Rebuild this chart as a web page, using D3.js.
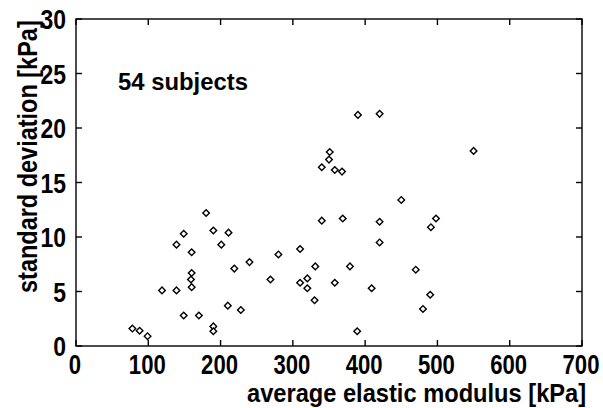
<!DOCTYPE html>
<html>
<head>
<meta charset="utf-8">
<script src="https://cdn.jsdelivr.net/npm/d3@7"></script>
<style>
body{margin:0;background:#fff;}
svg{display:block;}
.narrow{font-family:"Liberation Sans Narrow","Arial Narrow","Liberation Sans",Arial,sans-serif;font-weight:bold;}
</style>
</head>
<body>
<svg id="chart" width="603" height="408"></svg>
<script>
var modulus=[78,88,99,119,139,139,149,149,160,160,159,160,170,180,190,190,190,201,211,210,219,228,240,269,280,310,310,320,320,331,330,340,340,350,351,358,358,368,369,379,389,390,409,420,420,420,450,470,480,490,491,498,550];
var stdDev=[1.6,1.4,0.9,5.1,5.1,9.3,10.3,2.8,8.6,6.7,6.1,5.4,2.8,12.2,10.6,1.8,1.35,9.3,10.4,3.7,7.1,3.3,7.7,6.1,8.4,8.9,5.8,6.2,5.3,7.3,4.2,16.4,11.5,17.1,17.8,16.15,5.8,16.0,11.7,7.3,1.35,21.2,5.3,11.4,9.5,21.3,13.4,7.0,3.4,4.7,10.9,11.7,17.9];
var xTicks=[0,100,200,300,400,500,600,700];
var yTicks=[0,5,10,15,20,25,30];

(function(){
    var svg=d3.select("#chart");
    var pL=76,pR=582,pT=19,pB=346;
    var x=d3.scaleLinear().domain([0,700]).range([pL,pR]);
    var y=d3.scaleLinear().domain([0,30]).range([pB,pT]);

    var axes=svg.append("g").attr("stroke","#000").attr("stroke-width",1.4).attr("fill","none");
    axes.append("rect").attr("x",pL).attr("y",pT).attr("width",pR-pL).attr("height",pB-pT);
    xTicks.forEach(function(t){
        axes.append("line").attr("x1",x(t)).attr("x2",x(t)).attr("y1",pB).attr("y2",pB-6);
        axes.append("line").attr("x1",x(t)).attr("x2",x(t)).attr("y1",pT).attr("y2",pT+6);
    });
    yTicks.forEach(function(t){
        axes.append("line").attr("x1",pL).attr("x2",pL+6).attr("y1",y(t)).attr("y2",y(t));
        axes.append("line").attr("x1",pR).attr("x2",pR-6).attr("y1",y(t)).attr("y2",y(t));
    });

    // condensed bold digits: squeeze regular bold horizontally
    svg.append("g").selectAll("text").data(xTicks).enter().append("text")
        .attr("class","narrow")
        .attr("transform",function(d){return "translate("+(x(d)-1)+",374) scale(0.82,1)";})
        .attr("text-anchor","middle")
        .attr("font-size",27)
        .text(function(d){return d;});
    svg.append("g").selectAll("text").data(yTicks).enter().append("text")
        .attr("class","narrow")
        .attr("transform",function(d){return "translate("+(pL-10)+","+(y(d)+10)+") scale(0.82,1)";})
        .attr("text-anchor","end")
        .attr("font-size",28)
        .text(function(d){return d;});

    svg.append("text").attr("class","narrow")
        .attr("transform","translate(247,402) scale(0.91,1)")
        .attr("font-size",26)
        .text("average elastic modulus [kPa]");
    svg.append("text").attr("class","narrow")
        .attr("transform","translate(37,293) rotate(-90) scale(0.87,1)")
        .attr("font-size",27)
        .text("standard deviation [kPa]");

    svg.append("text")
        .attr("x",118).attr("y",90)
        .attr("font-family","Liberation Sans, Arial, sans-serif")
        .attr("font-weight","bold")
        .attr("font-size",24)
        .attr("textLength",130).attr("lengthAdjust","spacingAndGlyphs")
        .text("54 subjects");

    var pts=modulus.map(function(m,i){return {x:m,y:stdDev[i]};});
    svg.append("g").selectAll("path").data(pts).enter().append("path")
        .attr("d",d3.symbol().type(d3.symbolSquare).size(22))
        .attr("transform",function(d){return "translate("+x(d.x)+","+y(d.y)+") rotate(45)";})
        .attr("fill","#fff")
        .attr("stroke","#000")
        .attr("stroke-width",1.4);
})();
</script>
</body>
</html>
